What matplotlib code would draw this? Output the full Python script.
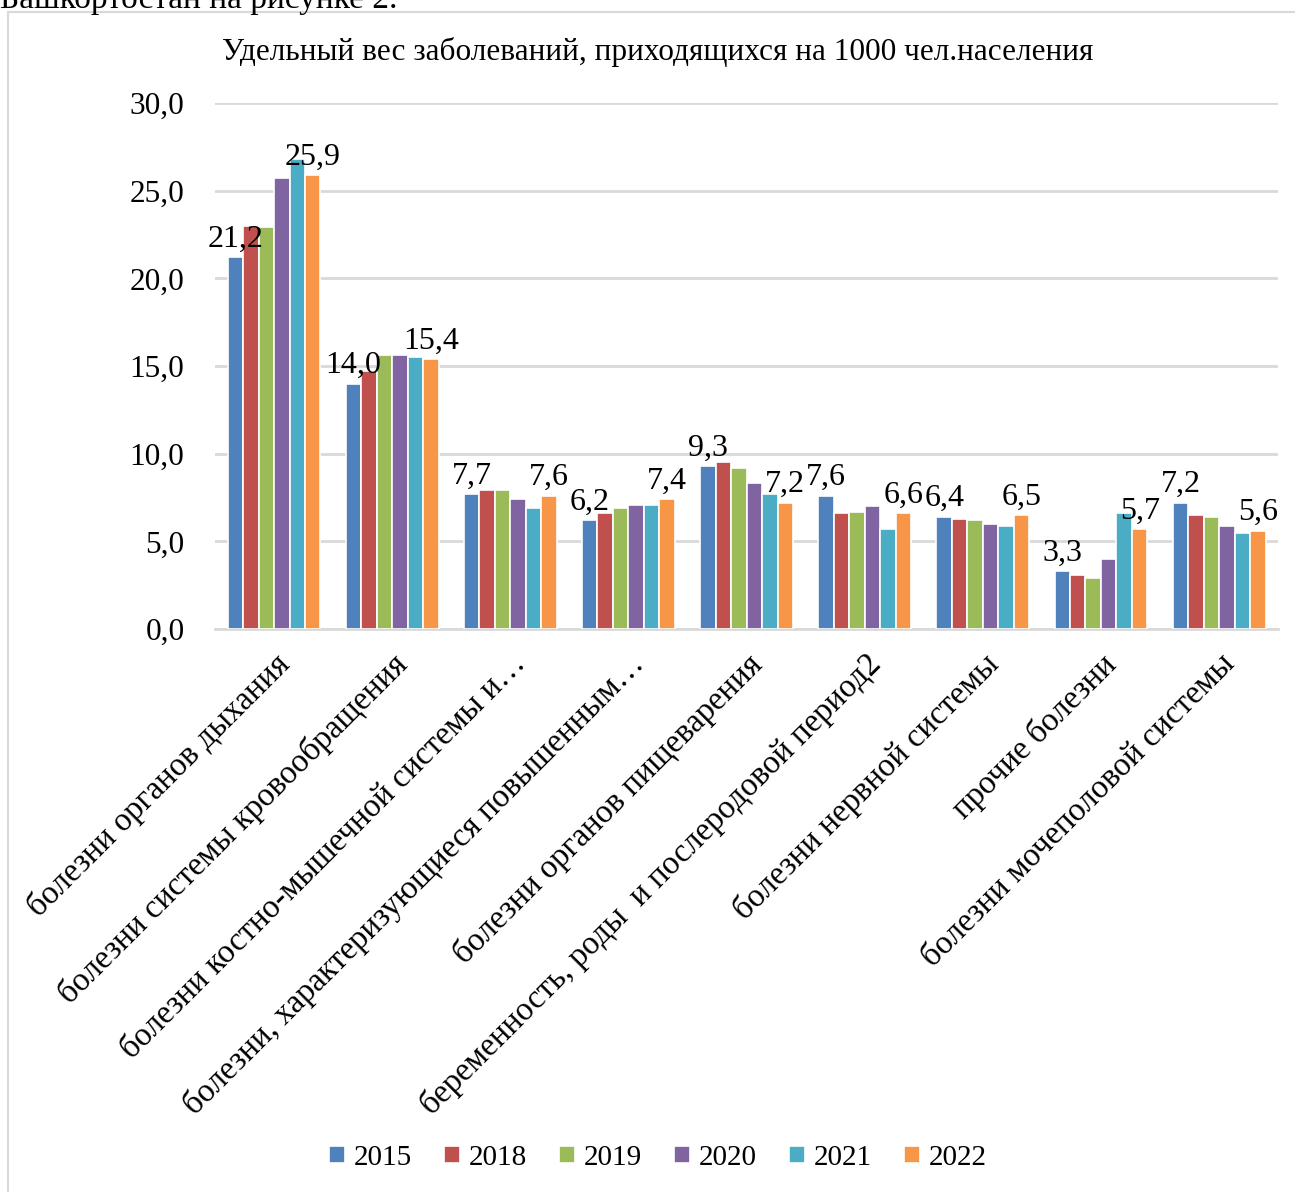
import matplotlib

matplotlib.use('agg')
import matplotlib.pyplot as plt
import numpy as np
from matplotlib.patches import Rectangle

plt.rcParams['font.family'] = ['Liberation Serif', 'DejaVu Serif']

categories = [
    'болезни органов дыхания',
    'болезни системы кровообращения',
    'болезни костно-мышечной системы и…',
    'болезни, характеризующиеся повышенным…',
    'болезни органов пищеварения',
    'беременность, роды  и послеродовой период2',
    'болезни нервной системы',
    'прочие болезни',
    'болезни мочеполовой системы',
]
years = ['2015', '2018', '2019', '2020', '2021', '2022']
v2015 = [21.2, 14.0, 7.7, 6.2, 9.3, 7.6, 6.4, 3.3, 7.2]
v2018 = [23.0, 14.7, 7.9, 6.6, 9.5, 6.6, 6.3, 3.1, 6.5]
v2019 = [22.9, 15.6, 7.9, 6.9, 9.2, 6.7, 6.2, 2.9, 6.4]
v2020 = [25.7, 15.6, 7.4, 7.1, 8.3, 7.0, 6.0, 4.0, 5.9]
v2021 = [26.8, 15.5, 6.9, 7.1, 7.7, 5.7, 5.9, 6.6, 5.5]
v2022 = [25.9, 15.4, 7.6, 7.4, 7.2, 6.6, 6.5, 5.7, 5.6]
series = [v2015, v2018, v2019, v2020, v2021, v2022]
colors = ['#4F81BD', '#C0504D', '#9BBB59', '#8064A2', '#4BACC6', '#F79646']

fig = plt.figure(figsize=(12.95, 11.92), dpi=100)
ax = fig.add_axes([0.166, 0.4723, 0.821, 0.4413])

x = np.arange(len(categories))
slot = 0.131
for i, (vals, c, yr) in enumerate(zip(series, colors, years)):
    pos = x + (i - 2.5) * slot
    bars = ax.bar(pos, vals, width=slot, color=c, edgecolor='white', linewidth=1.2, label=yr, zorder=3)
    if yr in ('2015', '2022'):
        for b, v in zip(bars, vals):
            ax.text(b.get_x() + b.get_width() / 2, v + 0.2, ('%.1f' % v).replace('.', ','),
                    ha='center', va='bottom', fontsize=23, zorder=4)

ax.set_xlim(-0.5, len(categories) - 0.5)
ax.set_ylim(0, 30)
ax.set_yticks(np.arange(0, 31, 5))
ax.set_yticklabels([('%.1f' % t).replace('.', ',') for t in np.arange(0, 31, 5)], fontsize=22.5)
ax.yaxis.grid(True, color='#D9D9D9', linewidth=2, zorder=0)
for s in ['top', 'right', 'left']:
    ax.spines[s].set_visible(False)
ax.spines['bottom'].set_color('#D9D9D9')
ax.spines['bottom'].set_linewidth(2)
ax.tick_params(axis='y', length=0, pad=22)
ax.set_xticks(x)
ax.set_xticklabels(categories, rotation=45, ha='right', va='top', rotation_mode='anchor', fontsize=23.5)
ax.tick_params(axis='x', length=0, pad=14)

fig.text(0.508, 1 - 52 / 1192, 'Удельный вес заболеваний, приходящихся на 1000 чел.населения',
         ha='center', va='center', fontsize=22.5)
fig.text(0.0, 1 - 8 / 1192, 'Башкортостан на рисунке 2.', ha='left', va='baseline', fontsize=24)

fig.patches.append(Rectangle((8 / 1295, -0.1), 2, 1.1 - 12 / 1192, transform=fig.transFigure,
                             fill=False, edgecolor='#D9D9D9', linewidth=1.5))

fig.legend(loc='center', bbox_to_anchor=(0.508, 1 - 1158 / 1192), ncol=6, frameon=False,
           fontsize=21, handlelength=0.55, handleheight=0.55, handletextpad=0.3, columnspacing=1.1)

fig.savefig('out.png', dpi=100)
